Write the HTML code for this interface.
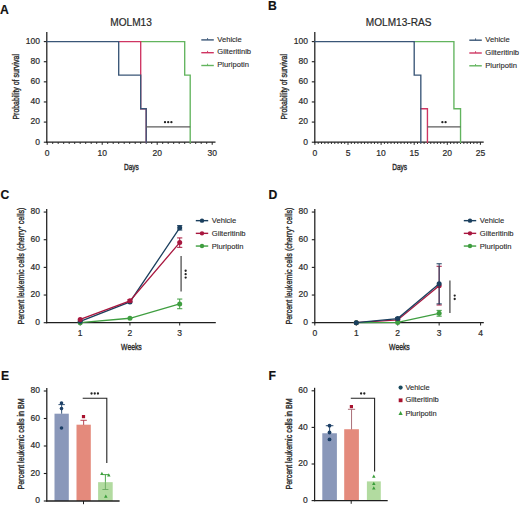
<!DOCTYPE html>
<html><head><meta charset="utf-8"><style>
html,body{margin:0;padding:0;background:#fff;width:520px;height:506px;overflow:hidden}
svg{display:block}
text{font-family:"Liberation Sans", sans-serif}
</style></head><body>
<svg width="520" height="506" viewBox="0 0 520 506">
<rect width="520" height="506" fill="#fff"/>
<text x="0.00" y="13.85" font-size="12.2" text-anchor="start" font-weight="bold" fill="#111" stroke="#111" stroke-width="0.15" >A</text>
<text x="131.10" y="26.00" font-size="10.1" text-anchor="middle" font-weight="normal" fill="#2a2a2a" stroke="#2a2a2a" stroke-width="0.2" >MOLM13</text>
<line x1="46.80" y1="32.00" x2="46.80" y2="142.80" stroke="#1e1e1e" stroke-width="1.25"/>
<line x1="43.80" y1="142.20" x2="46.80" y2="142.20" stroke="#1e1e1e" stroke-width="1.1"/>
<text x="40.00" y="144.50" font-size="8.5" text-anchor="end" font-weight="normal" fill="#2a2a2a" stroke="#2a2a2a" stroke-width="0.2" >0</text>
<line x1="43.80" y1="122.08" x2="46.80" y2="122.08" stroke="#1e1e1e" stroke-width="1.1"/>
<text x="40.00" y="124.38" font-size="8.5" text-anchor="end" font-weight="normal" fill="#2a2a2a" stroke="#2a2a2a" stroke-width="0.2" >20</text>
<line x1="43.80" y1="101.96" x2="46.80" y2="101.96" stroke="#1e1e1e" stroke-width="1.1"/>
<text x="40.00" y="104.26" font-size="8.5" text-anchor="end" font-weight="normal" fill="#2a2a2a" stroke="#2a2a2a" stroke-width="0.2" >40</text>
<line x1="43.80" y1="81.84" x2="46.80" y2="81.84" stroke="#1e1e1e" stroke-width="1.1"/>
<text x="40.00" y="84.14" font-size="8.5" text-anchor="end" font-weight="normal" fill="#2a2a2a" stroke="#2a2a2a" stroke-width="0.2" >60</text>
<line x1="43.80" y1="61.72" x2="46.80" y2="61.72" stroke="#1e1e1e" stroke-width="1.1"/>
<text x="40.00" y="64.02" font-size="8.5" text-anchor="end" font-weight="normal" fill="#2a2a2a" stroke="#2a2a2a" stroke-width="0.2" >80</text>
<line x1="43.80" y1="41.60" x2="46.80" y2="41.60" stroke="#1e1e1e" stroke-width="1.1"/>
<text x="40.00" y="43.90" font-size="8.5" text-anchor="end" font-weight="normal" fill="#2a2a2a" stroke="#2a2a2a" stroke-width="0.2" >100</text>
<line x1="46.20" y1="142.20" x2="215.50" y2="142.20" stroke="#1e1e1e" stroke-width="1.3"/>
<line x1="47.20" y1="142.20" x2="47.20" y2="144.80" stroke="#1e1e1e" stroke-width="1.0"/>
<line x1="52.70" y1="142.20" x2="52.70" y2="144.00" stroke="#1e1e1e" stroke-width="0.9"/>
<line x1="58.20" y1="142.20" x2="58.20" y2="144.00" stroke="#1e1e1e" stroke-width="0.9"/>
<line x1="63.70" y1="142.20" x2="63.70" y2="144.00" stroke="#1e1e1e" stroke-width="0.9"/>
<line x1="69.20" y1="142.20" x2="69.20" y2="144.00" stroke="#1e1e1e" stroke-width="0.9"/>
<line x1="74.70" y1="142.20" x2="74.70" y2="144.00" stroke="#1e1e1e" stroke-width="0.9"/>
<line x1="80.20" y1="142.20" x2="80.20" y2="144.00" stroke="#1e1e1e" stroke-width="0.9"/>
<line x1="85.70" y1="142.20" x2="85.70" y2="144.00" stroke="#1e1e1e" stroke-width="0.9"/>
<line x1="91.20" y1="142.20" x2="91.20" y2="144.00" stroke="#1e1e1e" stroke-width="0.9"/>
<line x1="96.70" y1="142.20" x2="96.70" y2="144.00" stroke="#1e1e1e" stroke-width="0.9"/>
<line x1="102.20" y1="142.20" x2="102.20" y2="144.80" stroke="#1e1e1e" stroke-width="1.0"/>
<line x1="107.70" y1="142.20" x2="107.70" y2="144.00" stroke="#1e1e1e" stroke-width="0.9"/>
<line x1="113.20" y1="142.20" x2="113.20" y2="144.00" stroke="#1e1e1e" stroke-width="0.9"/>
<line x1="118.70" y1="142.20" x2="118.70" y2="144.00" stroke="#1e1e1e" stroke-width="0.9"/>
<line x1="124.20" y1="142.20" x2="124.20" y2="144.00" stroke="#1e1e1e" stroke-width="0.9"/>
<line x1="129.70" y1="142.20" x2="129.70" y2="144.00" stroke="#1e1e1e" stroke-width="0.9"/>
<line x1="135.20" y1="142.20" x2="135.20" y2="144.00" stroke="#1e1e1e" stroke-width="0.9"/>
<line x1="140.70" y1="142.20" x2="140.70" y2="144.00" stroke="#1e1e1e" stroke-width="0.9"/>
<line x1="146.20" y1="142.20" x2="146.20" y2="144.00" stroke="#1e1e1e" stroke-width="0.9"/>
<line x1="151.70" y1="142.20" x2="151.70" y2="144.00" stroke="#1e1e1e" stroke-width="0.9"/>
<line x1="157.20" y1="142.20" x2="157.20" y2="144.80" stroke="#1e1e1e" stroke-width="1.0"/>
<line x1="162.70" y1="142.20" x2="162.70" y2="144.00" stroke="#1e1e1e" stroke-width="0.9"/>
<line x1="168.20" y1="142.20" x2="168.20" y2="144.00" stroke="#1e1e1e" stroke-width="0.9"/>
<line x1="173.70" y1="142.20" x2="173.70" y2="144.00" stroke="#1e1e1e" stroke-width="0.9"/>
<line x1="179.20" y1="142.20" x2="179.20" y2="144.00" stroke="#1e1e1e" stroke-width="0.9"/>
<line x1="184.70" y1="142.20" x2="184.70" y2="144.00" stroke="#1e1e1e" stroke-width="0.9"/>
<line x1="190.20" y1="142.20" x2="190.20" y2="144.00" stroke="#1e1e1e" stroke-width="0.9"/>
<line x1="195.70" y1="142.20" x2="195.70" y2="144.00" stroke="#1e1e1e" stroke-width="0.9"/>
<line x1="201.20" y1="142.20" x2="201.20" y2="144.00" stroke="#1e1e1e" stroke-width="0.9"/>
<line x1="206.70" y1="142.20" x2="206.70" y2="144.00" stroke="#1e1e1e" stroke-width="0.9"/>
<line x1="212.20" y1="142.20" x2="212.20" y2="144.80" stroke="#1e1e1e" stroke-width="1.0"/>
<text x="47.20" y="155.80" font-size="8.5" text-anchor="middle" font-weight="normal" fill="#2a2a2a" stroke="#2a2a2a" stroke-width="0.2" >0</text>
<text x="102.20" y="155.80" font-size="8.5" text-anchor="middle" font-weight="normal" fill="#2a2a2a" stroke="#2a2a2a" stroke-width="0.2" >10</text>
<text x="157.20" y="155.80" font-size="8.5" text-anchor="middle" font-weight="normal" fill="#2a2a2a" stroke="#2a2a2a" stroke-width="0.2" >20</text>
<text x="212.20" y="155.80" font-size="8.5" text-anchor="middle" font-weight="normal" fill="#2a2a2a" stroke="#2a2a2a" stroke-width="0.2" >30</text>
<path d="M140.70,41.60 L184.70,41.60 L184.70,75.10 L190.20,75.10 L190.20,142.20 " stroke="#62b45e" stroke-width="1.35" fill="none" stroke-linejoin="miter" stroke-linecap="square"/>
<path d="M118.70,41.60 L140.70,41.60 L140.70,108.70 L146.20,108.70 L146.20,142.20 " stroke="#cf3562" stroke-width="1.35" fill="none" stroke-linejoin="miter" stroke-linecap="square"/>
<path d="M47.20,41.60 L118.70,41.60 L118.70,75.10 L140.70,75.10 L140.70,108.70 L146.20,108.70 L146.20,142.20 " stroke="#3a5677" stroke-width="1.35" fill="none" stroke-linejoin="miter" stroke-linecap="square"/>
<line x1="146.20" y1="126.81" x2="190.20" y2="126.81" stroke="#5c5c5c" stroke-width="1.3"/>
<circle cx="165.00" cy="122.21" r="1.15" fill="#222"/>
<circle cx="168.20" cy="122.21" r="1.15" fill="#222"/>
<circle cx="171.40" cy="122.21" r="1.15" fill="#222"/>
<line x1="201.30" y1="39.90" x2="213.80" y2="39.90" stroke="#3a5677" stroke-width="1.4"/>
<line x1="207.55" y1="38.10" x2="207.55" y2="39.90" stroke="#3a5677" stroke-width="0.9"/>
<text x="217.30" y="41.60" font-size="7.6" text-anchor="start" font-weight="normal" fill="#2a2a2a" stroke="#2a2a2a" stroke-width="0.12" >Vehicle</text>
<line x1="201.30" y1="52.70" x2="213.80" y2="52.70" stroke="#cf3562" stroke-width="1.4"/>
<line x1="207.55" y1="50.90" x2="207.55" y2="52.70" stroke="#cf3562" stroke-width="0.9"/>
<text x="217.30" y="54.40" font-size="7.6" text-anchor="start" font-weight="normal" fill="#2a2a2a" stroke="#2a2a2a" stroke-width="0.12" >Gilteritinib</text>
<line x1="201.30" y1="65.50" x2="213.80" y2="65.50" stroke="#62b45e" stroke-width="1.4"/>
<line x1="207.55" y1="63.70" x2="207.55" y2="65.50" stroke="#62b45e" stroke-width="0.9"/>
<text x="217.30" y="67.20" font-size="7.6" text-anchor="start" font-weight="normal" fill="#2a2a2a" stroke="#2a2a2a" stroke-width="0.12" >Pluripotin</text>
<text x="268.00" y="10.40" font-size="12.2" text-anchor="start" font-weight="bold" fill="#111" stroke="#111" stroke-width="0.15" >B</text>
<text x="398.65" y="26.00" font-size="10.1" text-anchor="middle" font-weight="normal" fill="#2a2a2a" stroke="#2a2a2a" stroke-width="0.2" >MOLM13-RAS</text>
<line x1="314.80" y1="32.00" x2="314.80" y2="142.80" stroke="#1e1e1e" stroke-width="1.25"/>
<line x1="311.80" y1="142.20" x2="314.80" y2="142.20" stroke="#1e1e1e" stroke-width="1.1"/>
<text x="308.00" y="144.50" font-size="8.5" text-anchor="end" font-weight="normal" fill="#2a2a2a" stroke="#2a2a2a" stroke-width="0.2" >0</text>
<line x1="311.80" y1="122.08" x2="314.80" y2="122.08" stroke="#1e1e1e" stroke-width="1.1"/>
<text x="308.00" y="124.38" font-size="8.5" text-anchor="end" font-weight="normal" fill="#2a2a2a" stroke="#2a2a2a" stroke-width="0.2" >20</text>
<line x1="311.80" y1="101.96" x2="314.80" y2="101.96" stroke="#1e1e1e" stroke-width="1.1"/>
<text x="308.00" y="104.26" font-size="8.5" text-anchor="end" font-weight="normal" fill="#2a2a2a" stroke="#2a2a2a" stroke-width="0.2" >40</text>
<line x1="311.80" y1="81.84" x2="314.80" y2="81.84" stroke="#1e1e1e" stroke-width="1.1"/>
<text x="308.00" y="84.14" font-size="8.5" text-anchor="end" font-weight="normal" fill="#2a2a2a" stroke="#2a2a2a" stroke-width="0.2" >60</text>
<line x1="311.80" y1="61.72" x2="314.80" y2="61.72" stroke="#1e1e1e" stroke-width="1.1"/>
<text x="308.00" y="64.02" font-size="8.5" text-anchor="end" font-weight="normal" fill="#2a2a2a" stroke="#2a2a2a" stroke-width="0.2" >80</text>
<line x1="311.80" y1="41.60" x2="314.80" y2="41.60" stroke="#1e1e1e" stroke-width="1.1"/>
<text x="308.00" y="43.90" font-size="8.5" text-anchor="end" font-weight="normal" fill="#2a2a2a" stroke="#2a2a2a" stroke-width="0.2" >100</text>
<line x1="314.20" y1="142.20" x2="483.70" y2="142.20" stroke="#1e1e1e" stroke-width="1.3"/>
<line x1="314.90" y1="142.20" x2="314.90" y2="144.80" stroke="#1e1e1e" stroke-width="1.0"/>
<line x1="318.21" y1="142.20" x2="318.21" y2="144.00" stroke="#1e1e1e" stroke-width="0.9"/>
<line x1="321.52" y1="142.20" x2="321.52" y2="144.00" stroke="#1e1e1e" stroke-width="0.9"/>
<line x1="324.83" y1="142.20" x2="324.83" y2="144.00" stroke="#1e1e1e" stroke-width="0.9"/>
<line x1="328.14" y1="142.20" x2="328.14" y2="144.00" stroke="#1e1e1e" stroke-width="0.9"/>
<line x1="331.45" y1="142.20" x2="331.45" y2="144.00" stroke="#1e1e1e" stroke-width="0.9"/>
<line x1="334.76" y1="142.20" x2="334.76" y2="144.00" stroke="#1e1e1e" stroke-width="0.9"/>
<line x1="338.07" y1="142.20" x2="338.07" y2="144.00" stroke="#1e1e1e" stroke-width="0.9"/>
<line x1="341.38" y1="142.20" x2="341.38" y2="144.00" stroke="#1e1e1e" stroke-width="0.9"/>
<line x1="344.69" y1="142.20" x2="344.69" y2="144.00" stroke="#1e1e1e" stroke-width="0.9"/>
<line x1="348.00" y1="142.20" x2="348.00" y2="144.80" stroke="#1e1e1e" stroke-width="1.0"/>
<line x1="351.31" y1="142.20" x2="351.31" y2="144.00" stroke="#1e1e1e" stroke-width="0.9"/>
<line x1="354.62" y1="142.20" x2="354.62" y2="144.00" stroke="#1e1e1e" stroke-width="0.9"/>
<line x1="357.93" y1="142.20" x2="357.93" y2="144.00" stroke="#1e1e1e" stroke-width="0.9"/>
<line x1="361.24" y1="142.20" x2="361.24" y2="144.00" stroke="#1e1e1e" stroke-width="0.9"/>
<line x1="364.55" y1="142.20" x2="364.55" y2="144.00" stroke="#1e1e1e" stroke-width="0.9"/>
<line x1="367.86" y1="142.20" x2="367.86" y2="144.00" stroke="#1e1e1e" stroke-width="0.9"/>
<line x1="371.17" y1="142.20" x2="371.17" y2="144.00" stroke="#1e1e1e" stroke-width="0.9"/>
<line x1="374.48" y1="142.20" x2="374.48" y2="144.00" stroke="#1e1e1e" stroke-width="0.9"/>
<line x1="377.79" y1="142.20" x2="377.79" y2="144.00" stroke="#1e1e1e" stroke-width="0.9"/>
<line x1="381.10" y1="142.20" x2="381.10" y2="144.80" stroke="#1e1e1e" stroke-width="1.0"/>
<line x1="384.41" y1="142.20" x2="384.41" y2="144.00" stroke="#1e1e1e" stroke-width="0.9"/>
<line x1="387.72" y1="142.20" x2="387.72" y2="144.00" stroke="#1e1e1e" stroke-width="0.9"/>
<line x1="391.03" y1="142.20" x2="391.03" y2="144.00" stroke="#1e1e1e" stroke-width="0.9"/>
<line x1="394.34" y1="142.20" x2="394.34" y2="144.00" stroke="#1e1e1e" stroke-width="0.9"/>
<line x1="397.65" y1="142.20" x2="397.65" y2="144.00" stroke="#1e1e1e" stroke-width="0.9"/>
<line x1="400.96" y1="142.20" x2="400.96" y2="144.00" stroke="#1e1e1e" stroke-width="0.9"/>
<line x1="404.27" y1="142.20" x2="404.27" y2="144.00" stroke="#1e1e1e" stroke-width="0.9"/>
<line x1="407.58" y1="142.20" x2="407.58" y2="144.00" stroke="#1e1e1e" stroke-width="0.9"/>
<line x1="410.89" y1="142.20" x2="410.89" y2="144.00" stroke="#1e1e1e" stroke-width="0.9"/>
<line x1="414.20" y1="142.20" x2="414.20" y2="144.80" stroke="#1e1e1e" stroke-width="1.0"/>
<line x1="417.51" y1="142.20" x2="417.51" y2="144.00" stroke="#1e1e1e" stroke-width="0.9"/>
<line x1="420.82" y1="142.20" x2="420.82" y2="144.00" stroke="#1e1e1e" stroke-width="0.9"/>
<line x1="424.13" y1="142.20" x2="424.13" y2="144.00" stroke="#1e1e1e" stroke-width="0.9"/>
<line x1="427.44" y1="142.20" x2="427.44" y2="144.00" stroke="#1e1e1e" stroke-width="0.9"/>
<line x1="430.75" y1="142.20" x2="430.75" y2="144.00" stroke="#1e1e1e" stroke-width="0.9"/>
<line x1="434.06" y1="142.20" x2="434.06" y2="144.00" stroke="#1e1e1e" stroke-width="0.9"/>
<line x1="437.37" y1="142.20" x2="437.37" y2="144.00" stroke="#1e1e1e" stroke-width="0.9"/>
<line x1="440.68" y1="142.20" x2="440.68" y2="144.00" stroke="#1e1e1e" stroke-width="0.9"/>
<line x1="443.99" y1="142.20" x2="443.99" y2="144.00" stroke="#1e1e1e" stroke-width="0.9"/>
<line x1="447.30" y1="142.20" x2="447.30" y2="144.80" stroke="#1e1e1e" stroke-width="1.0"/>
<line x1="450.61" y1="142.20" x2="450.61" y2="144.00" stroke="#1e1e1e" stroke-width="0.9"/>
<line x1="453.92" y1="142.20" x2="453.92" y2="144.00" stroke="#1e1e1e" stroke-width="0.9"/>
<line x1="457.23" y1="142.20" x2="457.23" y2="144.00" stroke="#1e1e1e" stroke-width="0.9"/>
<line x1="460.54" y1="142.20" x2="460.54" y2="144.00" stroke="#1e1e1e" stroke-width="0.9"/>
<line x1="463.85" y1="142.20" x2="463.85" y2="144.00" stroke="#1e1e1e" stroke-width="0.9"/>
<line x1="467.16" y1="142.20" x2="467.16" y2="144.00" stroke="#1e1e1e" stroke-width="0.9"/>
<line x1="470.47" y1="142.20" x2="470.47" y2="144.00" stroke="#1e1e1e" stroke-width="0.9"/>
<line x1="473.78" y1="142.20" x2="473.78" y2="144.00" stroke="#1e1e1e" stroke-width="0.9"/>
<line x1="477.09" y1="142.20" x2="477.09" y2="144.00" stroke="#1e1e1e" stroke-width="0.9"/>
<line x1="480.40" y1="142.20" x2="480.40" y2="144.80" stroke="#1e1e1e" stroke-width="1.0"/>
<text x="314.90" y="155.80" font-size="8.5" text-anchor="middle" font-weight="normal" fill="#2a2a2a" stroke="#2a2a2a" stroke-width="0.2" >0</text>
<text x="348.00" y="155.80" font-size="8.5" text-anchor="middle" font-weight="normal" fill="#2a2a2a" stroke="#2a2a2a" stroke-width="0.2" >5</text>
<text x="381.10" y="155.80" font-size="8.5" text-anchor="middle" font-weight="normal" fill="#2a2a2a" stroke="#2a2a2a" stroke-width="0.2" >10</text>
<text x="414.20" y="155.80" font-size="8.5" text-anchor="middle" font-weight="normal" fill="#2a2a2a" stroke="#2a2a2a" stroke-width="0.2" >15</text>
<text x="447.30" y="155.80" font-size="8.5" text-anchor="middle" font-weight="normal" fill="#2a2a2a" stroke="#2a2a2a" stroke-width="0.2" >20</text>
<text x="480.40" y="155.80" font-size="8.5" text-anchor="middle" font-weight="normal" fill="#2a2a2a" stroke="#2a2a2a" stroke-width="0.2" >25</text>
<path d="M420.82,108.70 L427.44,108.70 L427.44,142.20 " stroke="#cf3562" stroke-width="1.35" fill="none" stroke-linejoin="miter" stroke-linecap="square"/>
<path d="M414.20,41.60 L453.92,41.60 L453.92,108.70 L460.54,108.70 L460.54,142.20 " stroke="#62b45e" stroke-width="1.35" fill="none" stroke-linejoin="miter" stroke-linecap="square"/>
<path d="M314.90,41.60 L414.20,41.60 L414.20,75.10 L420.82,75.10 L420.82,142.20 " stroke="#3a5677" stroke-width="1.35" fill="none" stroke-linejoin="miter" stroke-linecap="square"/>
<line x1="427.44" y1="126.81" x2="460.54" y2="126.81" stroke="#5c5c5c" stroke-width="1.3"/>
<circle cx="442.39" cy="122.21" r="1.15" fill="#222"/>
<circle cx="445.59" cy="122.21" r="1.15" fill="#222"/>
<line x1="469.30" y1="40.20" x2="481.80" y2="40.20" stroke="#3a5677" stroke-width="1.4"/>
<line x1="475.55" y1="38.40" x2="475.55" y2="40.20" stroke="#3a5677" stroke-width="0.9"/>
<text x="485.30" y="41.90" font-size="7.6" text-anchor="start" font-weight="normal" fill="#2a2a2a" stroke="#2a2a2a" stroke-width="0.12" >Vehicle</text>
<line x1="469.30" y1="53.00" x2="481.80" y2="53.00" stroke="#cf3562" stroke-width="1.4"/>
<line x1="475.55" y1="51.20" x2="475.55" y2="53.00" stroke="#cf3562" stroke-width="0.9"/>
<text x="485.30" y="54.70" font-size="7.6" text-anchor="start" font-weight="normal" fill="#2a2a2a" stroke="#2a2a2a" stroke-width="0.12" >Gilteritinib</text>
<line x1="469.30" y1="65.80" x2="481.80" y2="65.80" stroke="#62b45e" stroke-width="1.4"/>
<line x1="475.55" y1="64.00" x2="475.55" y2="65.80" stroke="#62b45e" stroke-width="0.9"/>
<text x="485.30" y="67.50" font-size="7.6" text-anchor="start" font-weight="normal" fill="#2a2a2a" stroke="#2a2a2a" stroke-width="0.12" >Pluripotin</text>
<text transform="translate(18.9,86.8) rotate(-90) scale(0.78,1)" font-size="8.9" text-anchor="middle" fill="#2a2a2a" stroke="#2a2a2a" stroke-width="0.35">Probability of survival</text>
<text transform="translate(286.7,86.8) rotate(-90) scale(0.78,1)" font-size="8.9" text-anchor="middle" fill="#2a2a2a" stroke="#2a2a2a" stroke-width="0.35">Probability of survival</text>
<text transform="translate(131.35,169.7) scale(0.71,1)" font-size="9.2" text-anchor="middle" fill="#2a2a2a" stroke="#2a2a2a" stroke-width="0.4">Days</text>
<text transform="translate(399.6,169.7) scale(0.71,1)" font-size="9.2" text-anchor="middle" fill="#2a2a2a" stroke="#2a2a2a" stroke-width="0.4">Days</text>
<text x="0.50" y="199.10" font-size="12.2" text-anchor="start" font-weight="bold" fill="#111" stroke="#111" stroke-width="0.15" >C</text>
<line x1="46.70" y1="209.10" x2="46.70" y2="323.30" stroke="#1e1e1e" stroke-width="1.25"/>
<line x1="43.70" y1="322.70" x2="46.70" y2="322.70" stroke="#1e1e1e" stroke-width="1.1"/>
<text x="39.90" y="325.00" font-size="8.5" text-anchor="end" font-weight="normal" fill="#2a2a2a" stroke="#2a2a2a" stroke-width="0.2" >0</text>
<line x1="43.70" y1="295.04" x2="46.70" y2="295.04" stroke="#1e1e1e" stroke-width="1.1"/>
<text x="39.90" y="297.34" font-size="8.5" text-anchor="end" font-weight="normal" fill="#2a2a2a" stroke="#2a2a2a" stroke-width="0.2" >20</text>
<line x1="43.70" y1="267.38" x2="46.70" y2="267.38" stroke="#1e1e1e" stroke-width="1.1"/>
<text x="39.90" y="269.68" font-size="8.5" text-anchor="end" font-weight="normal" fill="#2a2a2a" stroke="#2a2a2a" stroke-width="0.2" >40</text>
<line x1="43.70" y1="239.72" x2="46.70" y2="239.72" stroke="#1e1e1e" stroke-width="1.1"/>
<text x="39.90" y="242.02" font-size="8.5" text-anchor="end" font-weight="normal" fill="#2a2a2a" stroke="#2a2a2a" stroke-width="0.2" >60</text>
<line x1="43.70" y1="212.06" x2="46.70" y2="212.06" stroke="#1e1e1e" stroke-width="1.1"/>
<text x="39.90" y="214.36" font-size="8.5" text-anchor="end" font-weight="normal" fill="#2a2a2a" stroke="#2a2a2a" stroke-width="0.2" >80</text>
<line x1="46.10" y1="322.70" x2="215.80" y2="322.70" stroke="#1e1e1e" stroke-width="1.3"/>
<line x1="80.20" y1="322.70" x2="80.20" y2="325.50" stroke="#1e1e1e" stroke-width="1.0"/>
<text x="80.20" y="336.30" font-size="8.5" text-anchor="middle" font-weight="normal" fill="#2a2a2a" stroke="#2a2a2a" stroke-width="0.2" >1</text>
<line x1="129.95" y1="322.70" x2="129.95" y2="325.50" stroke="#1e1e1e" stroke-width="1.0"/>
<text x="129.95" y="336.30" font-size="8.5" text-anchor="middle" font-weight="normal" fill="#2a2a2a" stroke="#2a2a2a" stroke-width="0.2" >2</text>
<line x1="179.70" y1="322.70" x2="179.70" y2="325.50" stroke="#1e1e1e" stroke-width="1.0"/>
<text x="179.70" y="336.30" font-size="8.5" text-anchor="middle" font-weight="normal" fill="#2a2a2a" stroke="#2a2a2a" stroke-width="0.2" >3</text>
<path d="M80.20,322.70 L129.95,318.27 L179.70,303.89 " stroke="#3f9e40" stroke-width="1.3" fill="none" />
<circle cx="80.20" cy="322.70" r="2.5" fill="#3f9e40"/>
<circle cx="129.95" cy="318.27" r="2.5" fill="#3f9e40"/>
<line x1="179.70" y1="299.05" x2="179.70" y2="308.73" stroke="#3f9e40" stroke-width="1.0"/>
<line x1="177.10" y1="299.05" x2="182.30" y2="299.05" stroke="#3f9e40" stroke-width="1.0"/>
<line x1="177.10" y1="308.73" x2="182.30" y2="308.73" stroke="#3f9e40" stroke-width="1.0"/>
<circle cx="179.70" cy="303.89" r="2.5" fill="#3f9e40"/>
<path d="M80.20,321.32 L129.95,301.95 L179.70,227.83 " stroke="#1b3f5e" stroke-width="1.3" fill="none" />
<circle cx="80.20" cy="321.32" r="2.5" fill="#1b3f5e"/>
<circle cx="129.95" cy="301.95" r="2.5" fill="#1b3f5e"/>
<line x1="179.70" y1="225.61" x2="179.70" y2="230.04" stroke="#1b3f5e" stroke-width="1.0"/>
<line x1="177.10" y1="225.61" x2="182.30" y2="225.61" stroke="#1b3f5e" stroke-width="1.0"/>
<line x1="177.10" y1="230.04" x2="182.30" y2="230.04" stroke="#1b3f5e" stroke-width="1.0"/>
<circle cx="179.70" cy="227.83" r="2.5" fill="#1b3f5e"/>
<path d="M80.20,319.38 L129.95,300.85 L179.70,242.62 " stroke="#a8173f" stroke-width="1.3" fill="none" />
<circle cx="80.20" cy="319.38" r="2.5" fill="#a8173f"/>
<line x1="129.95" y1="299.74" x2="129.95" y2="301.95" stroke="#a8173f" stroke-width="1.0"/>
<line x1="127.35" y1="299.74" x2="132.55" y2="299.74" stroke="#a8173f" stroke-width="1.0"/>
<line x1="127.35" y1="301.95" x2="132.55" y2="301.95" stroke="#a8173f" stroke-width="1.0"/>
<circle cx="129.95" cy="300.85" r="2.5" fill="#a8173f"/>
<line x1="179.70" y1="237.92" x2="179.70" y2="247.33" stroke="#a8173f" stroke-width="1.0"/>
<line x1="177.10" y1="237.92" x2="182.30" y2="237.92" stroke="#a8173f" stroke-width="1.0"/>
<line x1="177.10" y1="247.33" x2="182.30" y2="247.33" stroke="#a8173f" stroke-width="1.0"/>
<circle cx="179.70" cy="242.62" r="2.5" fill="#a8173f"/>
<line x1="181.10" y1="255.90" x2="181.10" y2="291.40" stroke="#5c5c5c" stroke-width="1.4"/>
<circle cx="185.65" cy="270.75" r="1.15" fill="#222"/>
<circle cx="185.65" cy="274.15" r="1.15" fill="#222"/>
<circle cx="185.65" cy="277.55" r="1.15" fill="#222"/>
<line x1="195.80" y1="220.65" x2="208.20" y2="220.65" stroke="#1b3f5e" stroke-width="1.4"/>
<circle cx="202.00" cy="220.65" r="2.2" fill="#1b3f5e"/>
<text x="211.80" y="223.45" font-size="7.6" text-anchor="start" font-weight="normal" fill="#2a2a2a" stroke="#2a2a2a" stroke-width="0.12" >Vehicle</text>
<line x1="195.80" y1="233.35" x2="208.20" y2="233.35" stroke="#a8173f" stroke-width="1.4"/>
<circle cx="202.00" cy="233.35" r="2.2" fill="#a8173f"/>
<text x="211.80" y="236.15" font-size="7.6" text-anchor="start" font-weight="normal" fill="#2a2a2a" stroke="#2a2a2a" stroke-width="0.12" >Gilteritinib</text>
<line x1="195.80" y1="246.05" x2="208.20" y2="246.05" stroke="#3f9e40" stroke-width="1.4"/>
<circle cx="202.00" cy="246.05" r="2.2" fill="#3f9e40"/>
<text x="211.80" y="248.85" font-size="7.6" text-anchor="start" font-weight="normal" fill="#2a2a2a" stroke="#2a2a2a" stroke-width="0.12" >Pluripotin</text>
<text x="268.50" y="198.90" font-size="12.2" text-anchor="start" font-weight="bold" fill="#111" stroke="#111" stroke-width="0.15" >D</text>
<line x1="314.80" y1="209.10" x2="314.80" y2="323.30" stroke="#1e1e1e" stroke-width="1.25"/>
<line x1="311.80" y1="322.70" x2="314.80" y2="322.70" stroke="#1e1e1e" stroke-width="1.1"/>
<text x="308.00" y="325.00" font-size="8.5" text-anchor="end" font-weight="normal" fill="#2a2a2a" stroke="#2a2a2a" stroke-width="0.2" >0</text>
<line x1="311.80" y1="295.04" x2="314.80" y2="295.04" stroke="#1e1e1e" stroke-width="1.1"/>
<text x="308.00" y="297.34" font-size="8.5" text-anchor="end" font-weight="normal" fill="#2a2a2a" stroke="#2a2a2a" stroke-width="0.2" >20</text>
<line x1="311.80" y1="267.38" x2="314.80" y2="267.38" stroke="#1e1e1e" stroke-width="1.1"/>
<text x="308.00" y="269.68" font-size="8.5" text-anchor="end" font-weight="normal" fill="#2a2a2a" stroke="#2a2a2a" stroke-width="0.2" >40</text>
<line x1="311.80" y1="239.72" x2="314.80" y2="239.72" stroke="#1e1e1e" stroke-width="1.1"/>
<text x="308.00" y="242.02" font-size="8.5" text-anchor="end" font-weight="normal" fill="#2a2a2a" stroke="#2a2a2a" stroke-width="0.2" >60</text>
<line x1="311.80" y1="212.06" x2="314.80" y2="212.06" stroke="#1e1e1e" stroke-width="1.1"/>
<text x="308.00" y="214.36" font-size="8.5" text-anchor="end" font-weight="normal" fill="#2a2a2a" stroke="#2a2a2a" stroke-width="0.2" >80</text>
<line x1="314.20" y1="322.70" x2="483.80" y2="322.70" stroke="#1e1e1e" stroke-width="1.3"/>
<line x1="314.80" y1="322.70" x2="314.80" y2="325.50" stroke="#1e1e1e" stroke-width="1.0"/>
<text x="314.80" y="336.30" font-size="8.5" text-anchor="middle" font-weight="normal" fill="#2a2a2a" stroke="#2a2a2a" stroke-width="0.2" >0</text>
<line x1="356.25" y1="322.70" x2="356.25" y2="325.50" stroke="#1e1e1e" stroke-width="1.0"/>
<text x="356.25" y="336.30" font-size="8.5" text-anchor="middle" font-weight="normal" fill="#2a2a2a" stroke="#2a2a2a" stroke-width="0.2" >1</text>
<line x1="397.70" y1="322.70" x2="397.70" y2="325.50" stroke="#1e1e1e" stroke-width="1.0"/>
<text x="397.70" y="336.30" font-size="8.5" text-anchor="middle" font-weight="normal" fill="#2a2a2a" stroke="#2a2a2a" stroke-width="0.2" >2</text>
<line x1="439.15" y1="322.70" x2="439.15" y2="325.50" stroke="#1e1e1e" stroke-width="1.0"/>
<text x="439.15" y="336.30" font-size="8.5" text-anchor="middle" font-weight="normal" fill="#2a2a2a" stroke="#2a2a2a" stroke-width="0.2" >3</text>
<line x1="480.60" y1="322.70" x2="480.60" y2="325.50" stroke="#1e1e1e" stroke-width="1.0"/>
<text x="480.60" y="336.30" font-size="8.5" text-anchor="middle" font-weight="normal" fill="#2a2a2a" stroke="#2a2a2a" stroke-width="0.2" >4</text>
<path d="M356.25,322.70 L397.70,319.93 L439.15,285.64 " stroke="#a8173f" stroke-width="1.3" fill="none" />
<circle cx="356.25" cy="322.70" r="2.5" fill="#a8173f"/>
<circle cx="397.70" cy="319.93" r="2.5" fill="#a8173f"/>
<line x1="439.15" y1="266.27" x2="439.15" y2="305.00" stroke="#a8173f" stroke-width="1.0"/>
<line x1="436.55" y1="266.27" x2="441.75" y2="266.27" stroke="#a8173f" stroke-width="1.0"/>
<line x1="436.55" y1="305.00" x2="441.75" y2="305.00" stroke="#a8173f" stroke-width="1.0"/>
<circle cx="439.15" cy="285.64" r="2.5" fill="#a8173f"/>
<path d="M356.25,322.70 L397.70,322.42 L439.15,313.30 " stroke="#3f9e40" stroke-width="1.3" fill="none" />
<circle cx="356.25" cy="322.70" r="2.5" fill="#3f9e40"/>
<circle cx="397.70" cy="322.42" r="2.5" fill="#3f9e40"/>
<line x1="439.15" y1="310.39" x2="439.15" y2="316.20" stroke="#3f9e40" stroke-width="1.0"/>
<line x1="436.55" y1="310.39" x2="441.75" y2="310.39" stroke="#3f9e40" stroke-width="1.0"/>
<line x1="436.55" y1="316.20" x2="441.75" y2="316.20" stroke="#3f9e40" stroke-width="1.0"/>
<circle cx="439.15" cy="313.30" r="2.5" fill="#3f9e40"/>
<path d="M356.25,322.70 L397.70,318.55 L439.15,283.84 " stroke="#1b3f5e" stroke-width="1.3" fill="none" />
<circle cx="356.25" cy="322.70" r="2.5" fill="#1b3f5e"/>
<line x1="397.70" y1="317.44" x2="397.70" y2="319.66" stroke="#1b3f5e" stroke-width="1.0"/>
<line x1="395.10" y1="317.44" x2="400.30" y2="317.44" stroke="#1b3f5e" stroke-width="1.0"/>
<line x1="395.10" y1="319.66" x2="400.30" y2="319.66" stroke="#1b3f5e" stroke-width="1.0"/>
<circle cx="397.70" cy="318.55" r="2.5" fill="#1b3f5e"/>
<line x1="439.15" y1="263.78" x2="439.15" y2="303.89" stroke="#1b3f5e" stroke-width="1.0"/>
<line x1="436.55" y1="263.78" x2="441.75" y2="263.78" stroke="#1b3f5e" stroke-width="1.0"/>
<line x1="436.55" y1="303.89" x2="441.75" y2="303.89" stroke="#1b3f5e" stroke-width="1.0"/>
<circle cx="439.15" cy="283.84" r="2.5" fill="#1b3f5e"/>
<line x1="449.90" y1="280.60" x2="449.90" y2="313.00" stroke="#5c5c5c" stroke-width="1.4"/>
<circle cx="454.70" cy="295.60" r="1.15" fill="#222"/>
<circle cx="454.70" cy="299.00" r="1.15" fill="#222"/>
<line x1="463.80" y1="220.65" x2="476.20" y2="220.65" stroke="#1b3f5e" stroke-width="1.4"/>
<circle cx="470.00" cy="220.65" r="2.2" fill="#1b3f5e"/>
<text x="479.80" y="223.45" font-size="7.6" text-anchor="start" font-weight="normal" fill="#2a2a2a" stroke="#2a2a2a" stroke-width="0.12" >Vehicle</text>
<line x1="463.80" y1="233.35" x2="476.20" y2="233.35" stroke="#a8173f" stroke-width="1.4"/>
<circle cx="470.00" cy="233.35" r="2.2" fill="#a8173f"/>
<text x="479.80" y="236.15" font-size="7.6" text-anchor="start" font-weight="normal" fill="#2a2a2a" stroke="#2a2a2a" stroke-width="0.12" >Gilteritinib</text>
<line x1="463.80" y1="246.05" x2="476.20" y2="246.05" stroke="#3f9e40" stroke-width="1.4"/>
<circle cx="470.00" cy="246.05" r="2.2" fill="#3f9e40"/>
<text x="479.80" y="248.85" font-size="7.6" text-anchor="start" font-weight="normal" fill="#2a2a2a" stroke="#2a2a2a" stroke-width="0.12" >Pluripotin</text>
<text transform="translate(24,266) rotate(-90) scale(0.78,1)" font-size="9.2" text-anchor="middle" fill="#2a2a2a" stroke="#2a2a2a" stroke-width="0.35">Percent leukemic cells (cherry<tspan font-size="5.5" dy="-3.2">+</tspan><tspan dy="3.2"> cells)</tspan></text>
<text transform="translate(292.4,266) rotate(-90) scale(0.78,1)" font-size="9.2" text-anchor="middle" fill="#2a2a2a" stroke="#2a2a2a" stroke-width="0.35">Percent leukemic cells (cherry<tspan font-size="5.5" dy="-3.2">+</tspan><tspan dy="3.2"> cells)</tspan></text>
<text transform="translate(131.4,350.0) scale(0.685,1)" font-size="9.9" text-anchor="middle" fill="#2a2a2a" stroke="#2a2a2a" stroke-width="0.4">Weeks</text>
<text transform="translate(399.4,350.0) scale(0.685,1)" font-size="9.9" text-anchor="middle" fill="#2a2a2a" stroke="#2a2a2a" stroke-width="0.4">Weeks</text>
<text x="1.00" y="379.60" font-size="12.2" text-anchor="start" font-weight="bold" fill="#111" stroke="#111" stroke-width="0.15" >E</text>
<rect x="54.5" y="413.69" width="14.30" height="87.31" fill="#8a98ba"/>
<line x1="61.65" y1="413.70" x2="61.65" y2="404.60" stroke="#1c3f66" stroke-width="0.9"/>
<line x1="58.45" y1="404.60" x2="64.85" y2="404.60" stroke="#1c3f66" stroke-width="0.9"/>
<circle cx="61.50" cy="403.10" r="1.8" fill="#1c3f66"/>
<circle cx="61.50" cy="408.60" r="1.8" fill="#1c3f66"/>
<circle cx="61.50" cy="428.00" r="1.8" fill="#1c3f66"/>
<rect x="76.5" y="424.69" width="14.30" height="76.31" fill="#e48a7c"/>
<line x1="83.65" y1="424.90" x2="83.65" y2="420.30" stroke="#b0303f" stroke-width="0.9"/>
<line x1="80.45" y1="420.30" x2="86.85" y2="420.30" stroke="#b0303f" stroke-width="0.9"/>
<rect x="81.90" y="415.00" width="3.2" height="3.2" fill="#a8122e"/>
<rect x="98.1" y="482.16" width="14.60" height="18.84" fill="#b2dba0"/>
<line x1="105.40" y1="481.90" x2="105.40" y2="474.60" stroke="#3a9e3a" stroke-width="0.9"/>
<line x1="102.20" y1="474.60" x2="108.60" y2="474.60" stroke="#3a9e3a" stroke-width="0.9"/>
<line x1="105.40" y1="481.90" x2="105.40" y2="489.50" stroke="#6aa860" stroke-width="0.9"/>
<line x1="102.40" y1="489.50" x2="108.40" y2="489.50" stroke="#6aa860" stroke-width="0.9"/>
<path d="M100.14,474.94 L103.66,474.94 L101.90,471.74 Z" fill="#3a9e3a"/>
<path d="M107.04,476.54 L110.56,476.54 L108.80,473.34 Z" fill="#3a9e3a"/>
<path d="M104.04,497.64 L107.56,497.64 L105.80,494.44 Z" fill="#3a9e3a"/>
<line x1="46.80" y1="388.00" x2="46.80" y2="501.60" stroke="#1e1e1e" stroke-width="1.25"/>
<line x1="43.80" y1="501.00" x2="46.80" y2="501.00" stroke="#1e1e1e" stroke-width="1.1"/>
<text x="40.00" y="503.30" font-size="8.5" text-anchor="end" font-weight="normal" fill="#2a2a2a" stroke="#2a2a2a" stroke-width="0.2" >0</text>
<line x1="43.80" y1="473.50" x2="46.80" y2="473.50" stroke="#1e1e1e" stroke-width="1.1"/>
<text x="40.00" y="475.80" font-size="8.5" text-anchor="end" font-weight="normal" fill="#2a2a2a" stroke="#2a2a2a" stroke-width="0.2" >20</text>
<line x1="43.80" y1="446.00" x2="46.80" y2="446.00" stroke="#1e1e1e" stroke-width="1.1"/>
<text x="40.00" y="448.30" font-size="8.5" text-anchor="end" font-weight="normal" fill="#2a2a2a" stroke="#2a2a2a" stroke-width="0.2" >40</text>
<line x1="43.80" y1="418.50" x2="46.80" y2="418.50" stroke="#1e1e1e" stroke-width="1.1"/>
<text x="40.00" y="420.80" font-size="8.5" text-anchor="end" font-weight="normal" fill="#2a2a2a" stroke="#2a2a2a" stroke-width="0.2" >60</text>
<line x1="43.80" y1="391.00" x2="46.80" y2="391.00" stroke="#1e1e1e" stroke-width="1.1"/>
<text x="40.00" y="393.30" font-size="8.5" text-anchor="end" font-weight="normal" fill="#2a2a2a" stroke="#2a2a2a" stroke-width="0.2" >80</text>
<line x1="46.20" y1="501.00" x2="119.60" y2="501.00" stroke="#1e1e1e" stroke-width="1.3"/>
<line x1="83.50" y1="501.00" x2="83.50" y2="504.20" stroke="#1e1e1e" stroke-width="1"/>
<path d="M82.7,398.2 L106.8,398.2 L106.8,463.1" stroke="#222" stroke-width="1.1" fill="none" />
<circle cx="91.55" cy="393.50" r="1.15" fill="#222"/>
<circle cx="94.75" cy="393.50" r="1.15" fill="#222"/>
<circle cx="97.95" cy="393.50" r="1.15" fill="#222"/>
<text x="268.50" y="379.60" font-size="12.2" text-anchor="start" font-weight="bold" fill="#111" stroke="#111" stroke-width="0.15" >F</text>
<rect x="322.3" y="433.26" width="14.60" height="67.34" fill="#8a98ba"/>
<line x1="329.60" y1="433.10" x2="329.60" y2="425.70" stroke="#1c3f66" stroke-width="0.9"/>
<line x1="325.80" y1="425.70" x2="333.40" y2="425.70" stroke="#1c3f66" stroke-width="0.9"/>
<circle cx="329.50" cy="425.70" r="1.9" fill="#1c3f66"/>
<circle cx="329.50" cy="432.50" r="1.9" fill="#1c3f66"/>
<circle cx="329.50" cy="439.40" r="1.9" fill="#1c3f66"/>
<rect x="344.2" y="429.23" width="14.70" height="71.37" fill="#e48a7c"/>
<line x1="351.55" y1="429.50" x2="351.55" y2="409.30" stroke="#a0606a" stroke-width="0.9"/>
<line x1="347.95" y1="409.30" x2="355.15" y2="409.30" stroke="#a0606a" stroke-width="0.9"/>
<rect x="349.80" y="405.00" width="3.2" height="3.2" fill="#a8122e"/>
<rect x="366.9" y="481.39" width="13.90" height="19.21" fill="#b2dba0"/>
<path d="M372.04,477.64 L375.56,477.64 L373.80,474.44 Z" fill="#3a9e3a"/>
<path d="M372.04,484.94 L375.56,484.94 L373.80,481.74 Z" fill="#3a9e3a"/>
<path d="M372.04,489.44 L375.56,489.44 L373.80,486.24 Z" fill="#3a9e3a"/>
<line x1="314.60" y1="387.80" x2="314.60" y2="501.20" stroke="#1e1e1e" stroke-width="1.25"/>
<line x1="311.60" y1="500.60" x2="314.60" y2="500.60" stroke="#1e1e1e" stroke-width="1.1"/>
<text x="307.80" y="502.90" font-size="8.5" text-anchor="end" font-weight="normal" fill="#2a2a2a" stroke="#2a2a2a" stroke-width="0.2" >0</text>
<line x1="311.60" y1="464.00" x2="314.60" y2="464.00" stroke="#1e1e1e" stroke-width="1.1"/>
<text x="307.80" y="466.30" font-size="8.5" text-anchor="end" font-weight="normal" fill="#2a2a2a" stroke="#2a2a2a" stroke-width="0.2" >20</text>
<line x1="311.60" y1="427.40" x2="314.60" y2="427.40" stroke="#1e1e1e" stroke-width="1.1"/>
<text x="307.80" y="429.70" font-size="8.5" text-anchor="end" font-weight="normal" fill="#2a2a2a" stroke="#2a2a2a" stroke-width="0.2" >40</text>
<line x1="311.60" y1="390.80" x2="314.60" y2="390.80" stroke="#1e1e1e" stroke-width="1.1"/>
<text x="307.80" y="393.10" font-size="8.5" text-anchor="end" font-weight="normal" fill="#2a2a2a" stroke="#2a2a2a" stroke-width="0.2" >60</text>
<line x1="314.00" y1="500.60" x2="387.70" y2="500.60" stroke="#1e1e1e" stroke-width="1.3"/>
<line x1="351.20" y1="500.60" x2="351.20" y2="503.80" stroke="#1e1e1e" stroke-width="1"/>
<path d="M350.8,398.2 L374.6,398.2 L374.6,471.5" stroke="#222" stroke-width="1.1" fill="none" />
<circle cx="361.10" cy="393.50" r="1.15" fill="#222"/>
<circle cx="364.30" cy="393.50" r="1.15" fill="#222"/>
<text transform="translate(23.8,443.9) rotate(-90) scale(0.85,1)" font-size="8.4" text-anchor="middle" fill="#2a2a2a" stroke="#2a2a2a" stroke-width="0.35">Percent leukemic cells in BM</text>
<text transform="translate(291.8,443.9) rotate(-90) scale(0.85,1)" font-size="8.4" text-anchor="middle" fill="#2a2a2a" stroke="#2a2a2a" stroke-width="0.35">Percent leukemic cells in BM</text>
<circle cx="400.60" cy="387.60" r="2.1" fill="#1b4a5e"/>
<rect x="398.70" y="398.40" width="3.8" height="3.8" fill="#a8122e"/>
<path d="M398.51,414.91 L402.69,414.91 L400.60,411.11 Z" fill="#3a9e3a"/>
<text x="405.40" y="389.90" font-size="7.5" text-anchor="start" font-weight="normal" fill="#2a2a2a" stroke="#2a2a2a" stroke-width="0.12" >Vehicle</text>
<text x="405.40" y="402.40" font-size="7.5" text-anchor="start" font-weight="normal" fill="#2a2a2a" stroke="#2a2a2a" stroke-width="0.12" >Gilteritinib</text>
<text x="405.40" y="415.50" font-size="7.5" text-anchor="start" font-weight="normal" fill="#2a2a2a" stroke="#2a2a2a" stroke-width="0.12" >Pluripotin</text>
</svg></body></html>
